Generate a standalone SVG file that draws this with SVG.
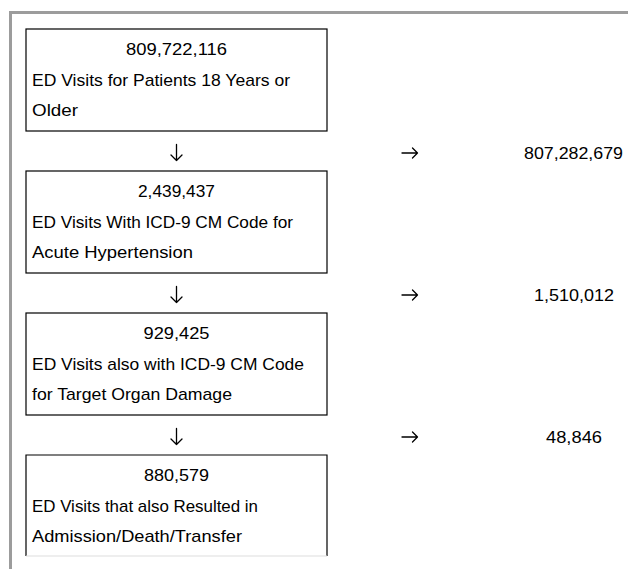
<svg xmlns="http://www.w3.org/2000/svg" width="628" height="569" viewBox="0 0 628 569">
  <style>
    .box { fill: #ffffff; stroke: #000000; stroke-width: 1.2; }
    .t { font-family: "Liberation Sans", Arial, sans-serif; font-size: 17px; fill: #000000; }
    .c { text-anchor: middle; }
    .arr { fill: none; stroke: #000000; stroke-width: 1.3; stroke-linecap: round; stroke-linejoin: round; }
    .frame { fill: none; stroke: #9c9c9c; stroke-width: 3; }
  </style>
  <rect x="0" y="0" width="628" height="569" fill="#ffffff"/>
  <path class="frame" d="M10.5 569 V12.5 H628"/>

  <g id="node1">
    <rect class="box" x="26" y="29" width="301" height="102"/>
    <text class="t c" x="176.5" y="55" textLength="101" lengthAdjust="spacingAndGlyphs">809,722,116</text>
    <text class="t" x="32" y="86" textLength="258" lengthAdjust="spacingAndGlyphs">ED Visits for Patients 18 Years or</text>
    <text class="t" x="32" y="116" textLength="46" lengthAdjust="spacingAndGlyphs">Older</text>
  </g>

  <g id="node2">
    <rect class="box" x="26" y="171" width="301" height="102"/>
    <text class="t c" x="176.5" y="197" textLength="77" lengthAdjust="spacingAndGlyphs">2,439,437</text>
    <text class="t" x="32" y="228" textLength="261" lengthAdjust="spacingAndGlyphs">ED Visits With ICD-9 CM Code for</text>
    <text class="t" x="32" y="258" textLength="161" lengthAdjust="spacingAndGlyphs">Acute Hypertension</text>
  </g>

  <g id="node3">
    <rect class="box" x="26" y="313" width="301" height="102"/>
    <text class="t c" x="176.5" y="339" textLength="66" lengthAdjust="spacingAndGlyphs">929,425</text>
    <text class="t" x="32" y="370" textLength="272" lengthAdjust="spacingAndGlyphs">ED Visits also with ICD-9 CM Code</text>
    <text class="t" x="32" y="400" textLength="200" lengthAdjust="spacingAndGlyphs">for Target Organ Damage</text>
  </g>

  <g id="node4">
    <path class="box" d="M26 556 V455 H327 V556" fill="#ffffff"/>
    <line x1="26" y1="556" x2="327" y2="556" stroke="#dddddd" stroke-width="1"/>
    <text class="t c" x="176.5" y="481" textLength="65" lengthAdjust="spacingAndGlyphs">880,579</text>
    <text class="t" x="32" y="512" textLength="226" lengthAdjust="spacingAndGlyphs">ED Visits that also Resulted in</text>
    <text class="t" x="32" y="542" textLength="210" lengthAdjust="spacingAndGlyphs">Admission/Death/Transfer</text>
  </g>

  <g id="excluded">
    <text class="t c" x="573.5" y="159" textLength="99" lengthAdjust="spacingAndGlyphs">807,282,679</text>
    <text class="t c" x="574" y="301" textLength="80" lengthAdjust="spacingAndGlyphs">1,510,012</text>
    <text class="t c" x="574" y="443" textLength="56" lengthAdjust="spacingAndGlyphs">48,846</text>
  </g>

  <g id="connectors">
    <path class="arr" d="M176.5 144.5 V160.5 M171 155 L176.5 160.5 L182 155"/>
    <path class="arr" d="M176.5 286.5 V302.5 M171 297 L176.5 302.5 L182 297"/>
    <path class="arr" d="M176.5 428.5 V444.5 M171 439 L176.5 444.5 L182 439"/>
    <path class="arr" d="M402 153 H417.5 M412.5 148 L417.5 153 L412.5 158"/>
    <path class="arr" d="M402 295 H417.5 M412.5 290 L417.5 295 L412.5 300"/>
    <path class="arr" d="M402 437 H417.5 M412.5 432 L417.5 437 L412.5 442"/>
  </g>
</svg>
